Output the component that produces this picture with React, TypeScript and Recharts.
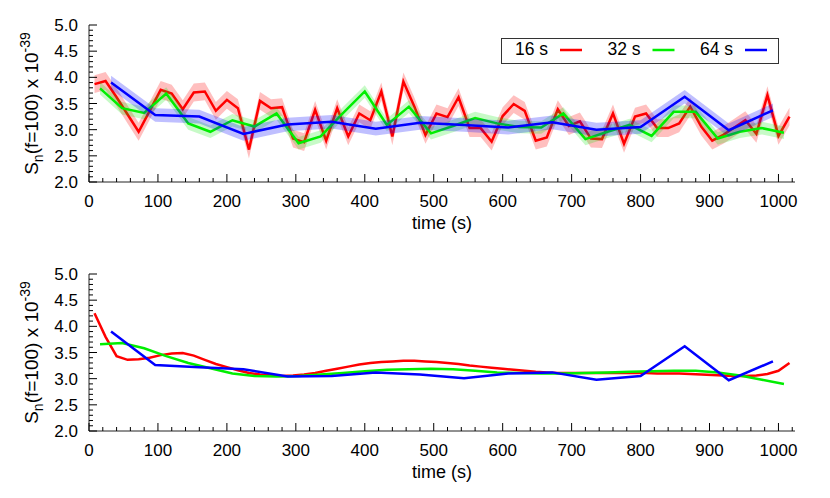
import React from 'react';
import { ComposedChart, Line, Area, XAxis, YAxis, Legend } from 'recharts';

const FONT = '"Liberation Sans", Arial, Helvetica, sans-serif';

// time bins (s) for the three averaging lengths
const T16 = [
    8, 24, 40, 56, 72, 88, 104, 120, 136, 152, 168, 184, 200, 216, 232, 248,
    264, 280, 296, 312, 328, 344, 360, 376, 392, 408, 424, 440, 456, 472, 488, 504,
    520, 536, 552, 568, 584, 600, 616, 632, 648, 664, 680, 696, 712, 728, 744, 760,
    776, 792, 808, 824, 840, 856, 872, 888, 904, 920, 936, 952, 968, 984, 1000, 1016,
];
const T32 = [
    16, 48, 80, 112, 144, 176, 208, 240, 272, 304, 336, 368, 400, 432, 464, 496,
    528, 560, 592, 624, 656, 688, 720, 752, 784, 816, 848, 880, 912, 944, 976, 1008,
];
const T64 = [32, 96, 160, 224, 288, 352, 416, 480, 544, 608, 672, 736, 800, 864, 928, 992];

// top panel: raw estimates
const RAW_16 = [
    3.87, 3.93, 3.62, 3.29, 2.96, 3.36, 3.76, 3.69, 3.39, 3.71, 3.73, 3.36, 3.57, 3.41, 2.62, 3.55,
    3.41, 3.43, 2.83, 2.76, 3.38, 2.79, 3.41, 2.87, 3.31, 3.18, 3.73, 2.87, 3.92, 3.44, 2.90, 3.31,
    3.24, 3.62, 3.03, 3.03, 2.77, 3.26, 3.49, 3.36, 2.79, 2.85, 3.39, 3.07, 3.16, 2.83, 2.82, 3.31,
    2.73, 3.25, 3.31, 3.03, 3.03, 3.12, 3.44, 3.06, 2.79, 2.90, 3.04, 3.18, 2.92, 3.66, 2.88, 3.25,
];
const RAW_32 = [
    3.79, 3.41, 3.32, 3.69, 3.12, 2.96, 3.18, 3.06, 3.31, 2.74, 2.87, 3.31, 3.73, 3.09, 3.44, 2.93,
    3.07, 3.22, 3.12, 3.05, 3.04, 3.31, 2.82, 2.96, 3.09, 2.88, 3.34, 3.34, 2.83, 2.96, 3.03, 2.94,
];
const RAW_64 = [3.90, 3.28, 3.25, 2.92, 3.10, 3.15, 3.02, 3.13, 3.09, 3.04, 3.14, 3.00, 3.05, 3.63, 2.99, 3.37];

// half-widths of the shaded bands
const ERR_16 = 0.17;
const ERR_32 = 0.12;
const ERR_64 = 0.13;

// bottom panel: smoothed estimates
const SMOOTH_16 = [
    4.25, 3.80, 3.43, 3.36, 3.37, 3.40, 3.45, 3.48, 3.49, 3.44, 3.36, 3.28, 3.22, 3.16, 3.11, 3.08,
    3.06, 3.05, 3.06, 3.08, 3.11, 3.15, 3.19, 3.23, 3.27, 3.30, 3.32, 3.33, 3.34, 3.34, 3.33, 3.32,
    3.30, 3.28, 3.25, 3.23, 3.21, 3.19, 3.17, 3.15, 3.13, 3.12, 3.11, 3.11, 3.11, 3.11, 3.11, 3.11,
    3.11, 3.11, 3.11, 3.10, 3.10, 3.10, 3.09, 3.08, 3.07, 3.06, 3.05, 3.05, 3.06, 3.09, 3.15, 3.30,
];
const SMOOTH_32 = [
    3.66, 3.68, 3.58, 3.43, 3.30, 3.20, 3.10, 3.05, 3.04, 3.05, 3.08, 3.11, 3.14, 3.17, 3.18, 3.19,
    3.18, 3.15, 3.12, 3.11, 3.10, 3.10, 3.11, 3.12, 3.13, 3.14, 3.15, 3.15, 3.12, 3.06, 2.98, 2.90,
];
const SMOOTH_64 = [3.90, 3.26, 3.22, 3.18, 3.04, 3.05, 3.12, 3.08, 3.01, 3.10, 3.12, 2.98, 3.05, 3.62, 2.97, 3.33];

const SERIES = [
    { name: '16 s', color: '#ff0000', band: 'rgba(255,0,0,0.25)' },
    { name: '32 s', color: '#00ee00', band: 'rgba(0,230,0,0.22)' },
    { name: '64 s', color: '#0000ff', band: 'rgba(0,0,255,0.25)' },
];

const X_DOMAIN = [0, 1024];
const Y_DOMAIN = [2, 5];
const X_TICKS = Array.from({ length: 52 }, (_, i) => i * 20);
const Y_TICKS = Array.from({ length: 31 }, (_, i) => (20 + i) / 10);

const toRows = (ts: number[], vs: number[], err?: number) =>
    ts.map((t, i) => ({ t, v: vs[i], band: err != null ? [vs[i] - err, vs[i] + err] : null }));

const XTick = (side: 'top' | 'bottom') => (props: any) => {
    const { x, y, payload } = props;
    const major = payload.value % 100 === 0;
    const len = major ? 8 : 4;
    const dir = side === 'bottom' ? -1 : 1;
    return (
        <g>
            <line x1={x} y1={y} x2={x} y2={y + dir * len} stroke="#000" strokeWidth={1} />
            {side === 'bottom' && major && (
                <text x={x} y={y + 25} textAnchor="middle" fontSize={17} fontFamily={FONT} fill="#000">
                    {payload.value}
                </text>
            )}
        </g>
    );
};

const YTick = (side: 'left' | 'right') => (props: any) => {
    const { x, y, payload } = props;
    const v = payload.value;
    const major = Math.abs(v * 2 - Math.round(v * 2)) < 1e-6;
    const len = major ? 8 : 4;
    const dir = side === 'left' ? 1 : -1;
    return (
        <g>
            <line x1={x} y1={y} x2={x + dir * len} y2={y} stroke="#000" strokeWidth={1} />
            {side === 'left' && major && (
                <text x={x - 11} y={y + 6} textAnchor="end" fontSize={17} fontFamily={FONT} fill="#000">
                    {v.toFixed(1)}
                </text>
            )}
        </g>
    );
};

const YLabel = (props: any) => {
    const vb = props.viewBox ?? { x: 0, y: 25, width: 89, height: 157 };
    const cx = vb.x + 38;
    const cy = vb.y + vb.height / 2;
    return (
        <text transform={`rotate(-90 ${cx} ${cy})`} x={cx} y={cy} textAnchor="middle" fontSize={19} fontFamily={FONT} fill="#000">
            S<tspan dy={5} fontSize={14}>n</tspan>
            <tspan dy={-5}>(f=100) x 10</tspan>
            <tspan dy={-8} fontSize={14}>-39</tspan>
        </text>
    );
};

const XLabel = (props: any) => {
    const vb = props.viewBox ?? { x: 89, y: 182, width: 706, height: 50 };
    return (
        <text x={vb.x + vb.width / 2} y={vb.y + 47} textAnchor="middle" fontSize={18} fontFamily={FONT} fill="#000">
            time (s)
        </text>
    );
};

const LegendBox = () => (
    <svg width={278} height={26} style={{ display: 'block' }}>
        <rect x={0.5} y={0.5} width={277} height={25} fill="#fff" stroke="#333" />
        {SERIES.map((s, i) => {
            const end = 47 + i * 92.5;
            return (
                <g key={s.name}>
                    <text x={end} y={16.5} textAnchor="end" fontSize={17.5} fontFamily={FONT} fill="#000">{s.name}</text>
                    <line x1={end + 12} x2={end + 34} y1={12} y2={12} stroke={s.color} strokeWidth={2.5} />
                </g>
            );
        })}
    </svg>
);

interface PanelProps {
    rows: { t: number; v: number; band: number[] | null }[][];
    bands: boolean;
    legend: boolean;
}

const Panel: React.FC<PanelProps> = ({ rows, bands, legend }) => (
    <ComposedChart width={830} height={249} margin={{ top: 25, right: 35, bottom: 17, left: 0 }}>
        <XAxis
            dataKey="t"
            type="number"
            domain={X_DOMAIN}
            ticks={X_TICKS}
            interval={0}
            allowDataOverflow
            height={50}
            tickSize={0}
            tickMargin={0}
            tickLine={false}
            axisLine={{ stroke: '#222' }}
            tick={XTick('bottom')}
            label={{ content: XLabel }}
        />
        <XAxis
            xAxisId="top"
            orientation="top"
            dataKey="t"
            type="number"
            domain={X_DOMAIN}
            ticks={X_TICKS}
            interval={0}
            allowDataOverflow
            height={0}
            tickSize={0}
            tickMargin={0}
            tickLine={false}
            axisLine={{ stroke: '#222' }}
            tick={XTick('top')}
        />
        <YAxis
            type="number"
            domain={Y_DOMAIN}
            ticks={Y_TICKS}
            interval={0}
            allowDataOverflow
            width={89}
            tickSize={0}
            tickMargin={0}
            tickLine={false}
            axisLine={{ stroke: '#222' }}
            tick={YTick('left')}
            label={{ content: YLabel }}
        />
        <YAxis
            yAxisId="right"
            orientation="right"
            type="number"
            domain={Y_DOMAIN}
            ticks={Y_TICKS}
            interval={0}
            allowDataOverflow
            width={0}
            tickSize={0}
            tickMargin={0}
            tickLine={false}
            axisLine={{ stroke: '#222' }}
            tick={YTick('right')}
        />
        {SERIES.map((s, i) => [
            bands ? (
                <Area
                    key={`band-${s.name}`}
                    data={rows[i]}
                    dataKey="band"
                    type="linear"
                    stroke="none"
                    fill={s.band}
                    fillOpacity={1}
                    activeDot={false}
                    isAnimationActive={false}
                    zIndex={100 + i * 2}
                />
            ) : null,
            <Line
                key={`line-${s.name}`}
                data={rows[i]}
                dataKey="v"
                type="linear"
                stroke={s.color}
                strokeWidth={2.5}
                dot={false}
                activeDot={false}
                isAnimationActive={false}
                zIndex={101 + i * 2}
            />,
        ])}
        {legend && (
            <Legend
                layout="horizontal"
                verticalAlign="middle"
                align="center"
                wrapperStyle={{ left: 501, top: 38, width: 278, height: 26 }}
                content={() => <LegendBox />}
            />
        )}
    </ComposedChart>
);

export default function App() {
    const raw = [toRows(T16, RAW_16, ERR_16), toRows(T32, RAW_32, ERR_32), toRows(T64, RAW_64, ERR_64)];
    const smooth = [toRows(T16, SMOOTH_16), toRows(T32, SMOOTH_32), toRows(T64, SMOOTH_64)];
    return (
        <div style={{ position: 'absolute', left: 0, top: 0, width: 830, height: 498, background: '#fff' }}>
            <Panel rows={raw} bands legend />
            <Panel rows={smooth} bands={false} legend={false} />
        </div>
    );
}
